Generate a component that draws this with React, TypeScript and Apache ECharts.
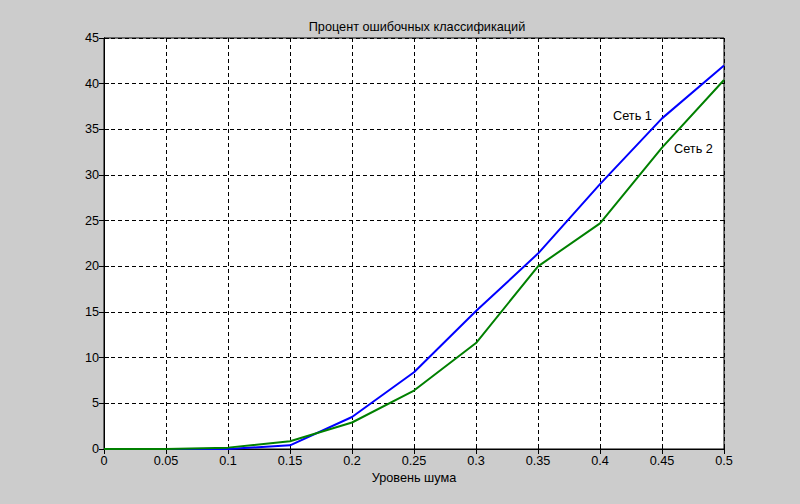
import React, { useEffect, useRef } from "react";
import * as echarts from "echarts";

const xValues = [0, 0.05, 0.1, 0.15, 0.2, 0.25, 0.3, 0.35, 0.4, 0.45, 0.5];
const net1 = [0, 0, 0, 0.4, 3.5, 8.4, 15.1, 21.4, 29.0, 36.2, 42.0];
const net2 = [0, 0, 0.15, 0.85, 2.9, 6.4, 11.6, 20.0, 24.7, 33.0, 40.4];
const seriesNames = ["Сеть 1", "Сеть 2"];
const labelPos1 = [0.4105, 36.5];
const labelPos2 = [0.4597, 32.9];
const titleText = "Процент ошибочных классификаций";
const xName = "Уровень шума";

const FONT = "'Liberation Sans', Arial, sans-serif";
const FS = 12.7;

export default function App() {
  const ref = useRef<HTMLDivElement>(null);
  useEffect(() => {
    if (!ref.current) return;
    const chart = echarts.init(ref.current, undefined, { renderer: "svg" });
    const axisCommon = {
      axisLine: { show: true, lineStyle: { color: "#000", width: 1 } },
      axisTick: { show: true, inside: true, length: 5, lineStyle: { color: "#000" } },
    };
    const labelStyle = {
      show: true,
      position: [0, 0],
      align: "left",
      verticalAlign: "middle",
      fontSize: FS,
      color: "#000",
      fontFamily: FONT,
    };
    chart.setOption({
      animation: false,
      backgroundColor: "#cccccc",
      textStyle: { fontFamily: FONT },
      title: {
        text: titleText,
        left: 412,
        top: 15,
        textAlign: "center",
        textStyle: { fontSize: FS, fontWeight: "normal", color: "#000", fontFamily: FONT },
      },
      grid: {
        left: 104,
        right: 76,
        top: 38,
        bottom: 55,
        show: true,
        backgroundColor: "#ffffff",
        borderColor: "#000",
        borderWidth: 1,
      },
      xAxis: [
        {
          type: "value",
          min: 0,
          max: 0.5,
          interval: 0.05,
          position: "bottom",
          name: xName,
          nameLocation: "middle",
          nameGap: 22,
          nameTextStyle: { fontSize: FS, color: "#000", fontFamily: FONT },
          ...axisCommon,
          axisLabel: { fontSize: FS, color: "#000", margin: 5, fontFamily: FONT },
          splitLine: { show: true, lineStyle: { color: "#000", type: [4, 3], width: 1 } },
        },
        {
          type: "value",
          min: 0,
          max: 0.5,
          interval: 0.05,
          position: "top",
          ...axisCommon,
          axisLabel: { show: false },
          splitLine: { show: false },
        },
      ],
      yAxis: [
        {
          type: "value",
          min: 0,
          max: 45,
          interval: 5,
          position: "left",
          ...axisCommon,
          axisLabel: { fontSize: FS, color: "#000", margin: 5, fontFamily: FONT },
          splitLine: { show: true, lineStyle: { color: "#000", type: [4, 3], width: 1 } },
        },
        {
          type: "value",
          min: 0,
          max: 45,
          interval: 5,
          position: "right",
          ...axisCommon,
          axisLabel: { show: false },
          splitLine: { show: false },
        },
      ],
      series: [
        {
          name: seriesNames[0],
          type: "line",
          data: xValues.map((x, i) => [x, net1[i]]),
          showSymbol: false,
          lineStyle: { color: "#0000ff", width: 2 },
          itemStyle: { color: "#0000ff" },
          z: 3,
          markPoint: {
            symbol: "circle",
            symbolSize: 0,
            data: [{ coord: labelPos1 }],
            label: { ...labelStyle, formatter: seriesNames[0] },
          },
        },
        {
          name: seriesNames[1],
          type: "line",
          data: xValues.map((x, i) => [x, net2[i]]),
          showSymbol: false,
          lineStyle: { color: "#008000", width: 2 },
          itemStyle: { color: "#008000" },
          z: 3,
          markPoint: {
            symbol: "circle",
            symbolSize: 0,
            data: [{ coord: labelPos2 }],
            label: { ...labelStyle, formatter: seriesNames[1] },
          },
        },
      ],
    });
    return () => chart.dispose();
  }, []);
  return (
    <div
      ref={ref}
      style={{ position: "fixed", left: 0, top: 0, width: 800, height: 504 }}
    />
  );
}
